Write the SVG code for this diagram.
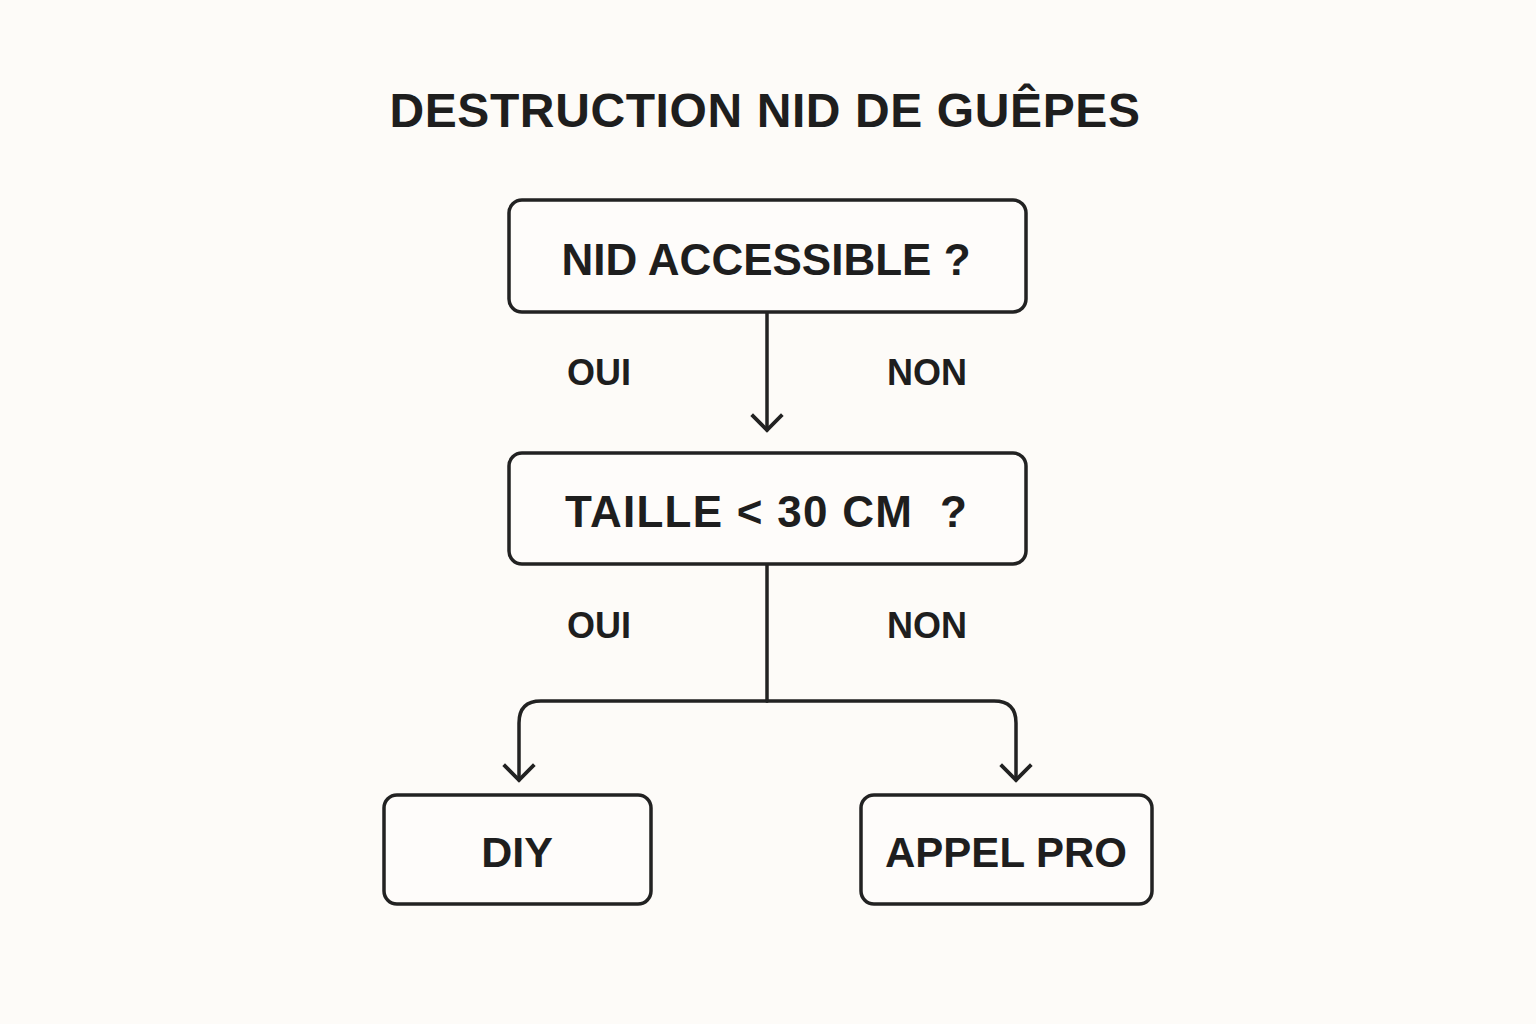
<svg xmlns="http://www.w3.org/2000/svg" width="1536" height="1024" viewBox="0 0 1536 1024">
<defs>
<style>
.box{fill:#fefcfa;stroke:#222;stroke-width:3.5}
.t{font-family:"Liberation Sans",Arial,sans-serif;font-weight:bold;fill:#1e1e1e;text-anchor:middle}
.lbl{font-family:"Liberation Sans",Arial,sans-serif;font-weight:bold;fill:#1e1e1e;font-size:36px}
.c{fill:none;stroke:#222;stroke-width:3.5;stroke-linecap:round;stroke-linejoin:round}
</style>
<marker id="arr" viewBox="-20 -20 40 40" markerWidth="40" markerHeight="40" refX="0" refY="0" orient="auto" markerUnits="userSpaceOnUse">
<path d="M-14,-14 L0,0 L-14,14" fill="none" stroke="#222" stroke-width="3.8" stroke-linecap="square"/>
</marker>
</defs>
<rect width="1536" height="1024" fill="#fdfbf8"/>
<text class="t" x="765" y="127" font-size="48" letter-spacing="0.6">DESTRUCTION NID DE GUÊPES</text>
<g id="connectors">
<path class="c" d="M767,313 L767,430" marker-end="url(#arr)"/>
<path class="c" d="M767,565 L767,701"/>
<path class="c" d="M767,701 L541,701 Q519,701 519,723 L519,780" marker-end="url(#arr)"/>
<path class="c" d="M767,701 L994,701 Q1016,701 1016,723 L1016,780" marker-end="url(#arr)"/>
<text class="lbl" x="567" y="385">OUI</text>
<text class="lbl" x="887" y="385">NON</text>
<text class="lbl" x="567" y="638">OUI</text>
<text class="lbl" x="887" y="638">NON</text>
</g>
<g id="n1">
<rect class="box" x="509" y="200" width="517" height="112" rx="13"/>
<text class="t" x="766" y="275" font-size="44">NID ACCESSIBLE ?</text>
</g>
<g id="n2">
<rect class="box" x="509" y="453" width="517" height="111" rx="13"/>
<text class="t" x="766" y="527" font-size="44" xml:space="preserve" textLength="402" lengthAdjust="spacing">TAILLE &lt; 30 CM  ?</text>
</g>
<g id="n3">
<rect class="box" x="384" y="795" width="267" height="109" rx="13"/>
<text class="t" x="517" y="867" font-size="43">DIY</text>
</g>
<g id="n4">
<rect class="box" x="861" y="795" width="291" height="109" rx="13"/>
<text class="t" x="1006" y="867" font-size="42">APPEL PRO</text>
</g>
</svg>
